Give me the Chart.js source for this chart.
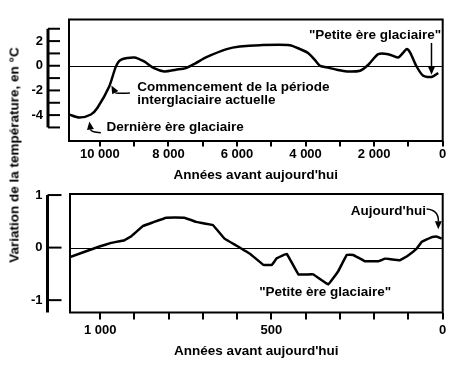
<!DOCTYPE html>
<html>
<head>
<meta charset="utf-8">
<script src="https://cdn.jsdelivr.net/npm/chart.js@4.4.1/dist/chart.umd.min.js"></script>
<style>
	body { margin: 0; background: #fff; }
	#wrap { position: relative; width: 461px; height: 366px; }
	#top_chart { position: absolute; left: 0; top: 0; }
	#bottom_chart { position: absolute; left: 0; top: 186px; }
	#y_title {
		position: absolute; left: 14px; top: 155px;
		transform: translate(-50%, -50%) rotate(-90deg);
		font: bold 13.5px "Liberation Sans", Arial, sans-serif;
		white-space: nowrap; color: #000;
	}
</style>
</head>
<body>
<div id="wrap">
	<canvas id="top_chart" width="461" height="186"></canvas>
	<canvas id="bottom_chart" width="461" height="180"></canvas>
	<div id="y_title">Variation de la température, en °C</div>
</div>
<script>
// 11 000 ans : années avant aujourd'hui / écart de température
const top_years = [10900, 10600, 10260, 10070, 9730, 9530, 9390, 9000, 8710, 8420, 8120, 7780, 7490, 7200, 6890, 6300, 5920, 5330, 4460, 4160, 3920, 3730, 3580, 3430, 3090, 2800, 2410, 2170, 1880, 1590, 1300, 1150, 1050, 950, 760, 570, 320, 130];
const top_temps = [-3.95, -4.2, -3.95, -3.4, -1.7, -0.05, 0.48, 0.67, 0.35, -0.2, -0.46, -0.32, -0.19, 0.22, 0.7, 1.35, 1.56, 1.67, 1.67, 1.35, 1.02, 0.48, 0, -0.1, -0.32, -0.46, -0.4, 0.08, 0.94, 0.94, 0.67, 1.07, 1.35, 1.07, -0.06, -0.81, -0.91, -0.59];

// 1 000 ans
const bottom_years = [1088, 1002, 968, 929, 910, 875, 846, 807, 754, 720, 671, 637, 603, 562, 523, 499, 484, 455, 421, 378, 334, 305, 280, 261, 227, 188, 168, 154, 125, 105, 76, 61, 32, 18, 3];
const bottom_temps = [-0.18, 0.02, 0.09, 0.14, 0.21, 0.41, 0.48, 0.57, 0.57, 0.49, 0.43, 0.17, 0.04, -0.12, -0.33, -0.33, -0.2, -0.12, -0.51, -0.51, -0.7, -0.45, -0.14, -0.14, -0.26, -0.26, -0.21, -0.22, -0.24, -0.17, -0.02, 0.11, 0.2, 0.21, 0.17];

const top_y_ticks = [3, 2, 1, 0, -1, -2, -3, -4, -5];
const top_y_labels = [2, 0, -2, -4];
const top_x_labels = [10000, 8000, 6000, 4000, 2000, 0];
const bottom_y_ticks = [1, 0, -1];
const bottom_y_labels = [1, 0, -1];
const bottom_x_labels = [1000, 500, 0];

const x_title = "Années avant aujourd'hui";
const font_family = "'Liberation Sans', Arial, sans-serif";

const fmt = (v) => String(v).replace(/\B(?=(\d{3})+(?!\d))/g, " ");

const drawArrow = (ctx, tail, ctrl, head) => {
	const ang = Math.atan2(head.y - ctrl.y, head.x - ctrl.x);
	const len = 8;
	const bx = head.x - Math.cos(ang) * len;
	const by = head.y - Math.sin(ang) * len;
	ctx.lineWidth = 1.5;
	ctx.beginPath();
	ctx.moveTo(tail.x, tail.y);
	ctx.quadraticCurveTo(ctrl.x, ctrl.y, bx, by);
	ctx.stroke();
	ctx.beginPath();
	ctx.moveTo(head.x, head.y);
	ctx.lineTo(bx + Math.cos(ang + Math.PI / 2) * 3.5, by + Math.sin(ang + Math.PI / 2) * 3.5);
	ctx.lineTo(bx + Math.cos(ang - Math.PI / 2) * 3.5, by + Math.sin(ang - Math.PI / 2) * 3.5);
	ctx.closePath();
	ctx.fill();
};

const panelDecor = {
	id: "panelDecor",
	beforeDatasetsDraw: (chart) => {
		const { ctx, chartArea: a, scales } = chart;
		const y0 = Math.round(scales.y.getPixelForValue(0)) + 0.5;
		ctx.save();
		ctx.strokeStyle = "#000";
		ctx.lineWidth = 1;
		ctx.beginPath();
		ctx.moveTo(a.left, y0);
		ctx.lineTo(a.right, y0);
		ctx.stroke();
		ctx.restore();
	},
	afterDraw: (chart, args, opts) => {
		const { ctx, chartArea: a, scales } = chart;
		const px = (p) => ({ x: scales.x.getPixelForValue(p[0]), y: scales.y.getPixelForValue(p[1]) });
		ctx.save();
		ctx.strokeStyle = "#000";
		ctx.fillStyle = "#000";
		// cadre
		ctx.lineWidth = 2;
		ctx.strokeRect(a.left, a.top, a.right - a.left, a.bottom - a.top);
		// axe vertical détaché
		const ax = a.left - opts.axisGap;
		ctx.lineWidth = 3;
		ctx.beginPath();
		ctx.moveTo(ax, scales.y.getPixelForValue(opts.axisTop));
		ctx.lineTo(ax, scales.y.getPixelForValue(opts.axisBottom));
		ctx.stroke();
		ctx.lineWidth = 2;
		opts.ticks.forEach((t) => {
			const ty = scales.y.getPixelForValue(t);
			ctx.beginPath();
			ctx.moveTo(ax, ty);
			ctx.lineTo(ax + opts.tickLen, ty);
			ctx.stroke();
		});
		ctx.font = "bold 13px " + font_family;
		ctx.textAlign = "right";
		ctx.textBaseline = "middle";
		opts.labels.forEach((t) => {
			ctx.fillText(String(t), ax - 5, scales.y.getPixelForValue(t));
		});
		// annotations
		ctx.font = "bold 13.5px " + font_family;
		opts.notes.forEach((n) => {
			const p = px(n.at);
			ctx.textAlign = n.align;
			ctx.fillText(n.text, p.x, p.y);
		});
		opts.arrows.forEach((ar) => {
			drawArrow(ctx, px(ar[0]), px(ar[1]), px(ar[2]));
		});
		ctx.restore();
	},
};

const drawPanel = (canvas, years, temps, xMax, yMin, yMax, step, xLabels, tickLen, tickPad, titlePad, padBottom, leftPad, tension, decor) => {
	return new Chart(canvas, {
		type: "line",
		data: {
			datasets: [
				{
					data: years.map((yr, i) => ({ x: yr, y: temps[i] })),
					borderColor: "#000",
					borderWidth: 2.5,
					pointRadius: 0,
					tension: tension,
				},
			],
		},
		options: {
			responsive: false,
			animation: false,
			devicePixelRatio: 1,
			layout: { padding: { left: leftPad, right: 18.3, top: decor.padTop, bottom: padBottom } },
			plugins: { legend: { display: false }, tooltip: { enabled: false }, panelDecor: decor },
			scales: {
				x: {
					type: "linear",
					reverse: true,
					min: 0,
					max: xMax,
					afterBuildTicks: (scale) => {
						const ticks = [];
						for (let v = 0; v <= xMax; v += step) ticks.push({ value: v });
						scale.ticks = ticks;
					},
					ticks: {
						autoSkip: false,
						maxRotation: 0,
						padding: tickPad,
						color: "#000",
						font: { family: font_family, size: 13, weight: "bold" },
						callback: (v) => (xLabels.includes(v) ? fmt(v) : ""),
					},
					grid: { drawOnChartArea: false, drawTicks: true, tickLength: tickLen, lineWidth: 2, color: "#000" },
					border: { display: false },
					title: {
						display: true,
						text: x_title,
						color: "#000",
						padding: { top: titlePad, bottom: 0 },
						font: { family: font_family, size: 13.5, weight: "bold" },
					},
				},
				y: { display: false, min: yMin, max: yMax },
			},
		},
		plugins: [panelDecor],
	});
};

drawPanel(
	document.querySelector("#top_chart"),
	top_years, top_temps, 10900, -6.1, 3.75, 1000, top_x_labels, 5.5, 0.5, 4.5, 2.2, 69, 0.25,
	{
		padTop: 19.5, axisGap: 21, tickLen: 12, axisTop: 3, axisBottom: -5,
		ticks: top_y_ticks, labels: top_y_labels,
		notes: [
			{ text: "Commencement de la période", at: [8906, -1.77], align: "left" },
			{ text: "interglaciaire actuelle", at: [8906, -2.82], align: "left" },
			{ text: "Dernière ère glaciaire", at: [9805, -5.0], align: "left" },
			{ text: "\"Petite ère glaciaire\"", at: [1975, 2.5], align: "center" },
		],
		arrows: [
			[[9124, -2.2], [9533, -2.26], [9664, -1.61]],
			[[9971, -5.43], [10263, -5.4], [10306, -4.52]],
			[[327, 1.85], [327, 0.6], [327, -0.73]],
		],
	}
);

drawPanel(
	document.querySelector("#bottom_chart"),
	bottom_years, bottom_temps, 1088, -1.235, 1.02, 100, bottom_x_labels, 7, 3, 2.5, 6.2, 70, 0.05,
	{
		padTop: 8, axisGap: 22.5, tickLen: 14, axisTop: 1, axisBottom: -1.235,
		ticks: bottom_y_ticks, labels: bottom_y_labels,
		notes: [
			{ text: "Aujourd'hui", at: [49, 0.694], align: "right" },
			{ text: "\"Petite ère glaciaire\"", at: [343, -0.843], align: "center" },
		],
		arrows: [
			[[47, 0.735], [12, 0.72], [13, 0.35]],
		],
	}
);
</script>
</body>
</html>
